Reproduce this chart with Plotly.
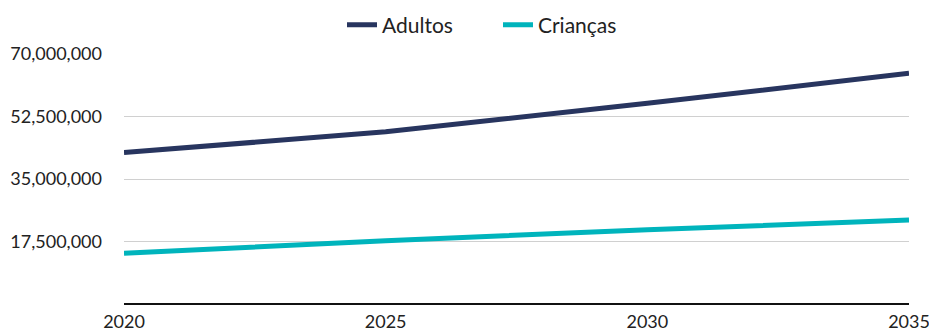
import plotly.graph_objects as go

years = [2020, 2025, 2030, 2035]
adultos = [42400000, 48200000, 56200000, 64600000]
criancas = [14200000, 17700000, 20800000, 23500000]
y_ticks = [17500000, 35000000, 52500000, 70000000]
x_ticks = [2020, 2025, 2030, 2035]

W, H = 929, 333

fig = go.Figure()
fig.add_trace(go.Scatter(x=years, y=adultos, mode="lines", name="Adultos",
                         line=dict(color="#28355f", width=5)))
fig.add_trace(go.Scatter(x=years, y=criancas, mode="lines", name="Crianças",
                         line=dict(color="#00b4bc", width=5)))

font = "Lato, 'Noto Sans', sans-serif"
fig.update_layout(
    width=W, height=H,
    margin=dict(l=124, r=20, t=54, b=29, autoexpand=False),
    paper_bgcolor="white", plot_bgcolor="white",
    font=dict(family=font, size=18, color="#333333"),
    showlegend=True,
    legend=dict(orientation="h", x=342 / W, xanchor="left", xref="container",
                y=1 - 25 / H, yanchor="middle", yref="container",
                font=dict(size=21, color="#222222"),
                entrywidth=111, entrywidthmode="pixels", tracegroupgap=0),
    xaxis=dict(range=[2020, 2035], tickvals=x_ticks, ticktext=[str(v) for v in x_ticks],
               showgrid=False, zeroline=False, showline=False, ticks="",
               tickfont=dict(size=18, color="#222222"), ticklabelstandoff=5,
               ticklabeloverflow="allow"),
    yaxis=dict(range=[0, 70000000], tickvals=y_ticks, tickformat=",",
               showgrid=True, gridcolor="#d0d0d0", gridwidth=1.2,
               zeroline=True, zerolinecolor="#111111", zerolinewidth=1.5,
               showline=False, ticks="", ticklabelstandoff=21,
               tickfont=dict(size=18, color="#222222")),
)
fig.write_html("out.html", config={"displayModeBar": False},
               post_script="document.body.style.margin='0';document.body.style.overflow='hidden';")
